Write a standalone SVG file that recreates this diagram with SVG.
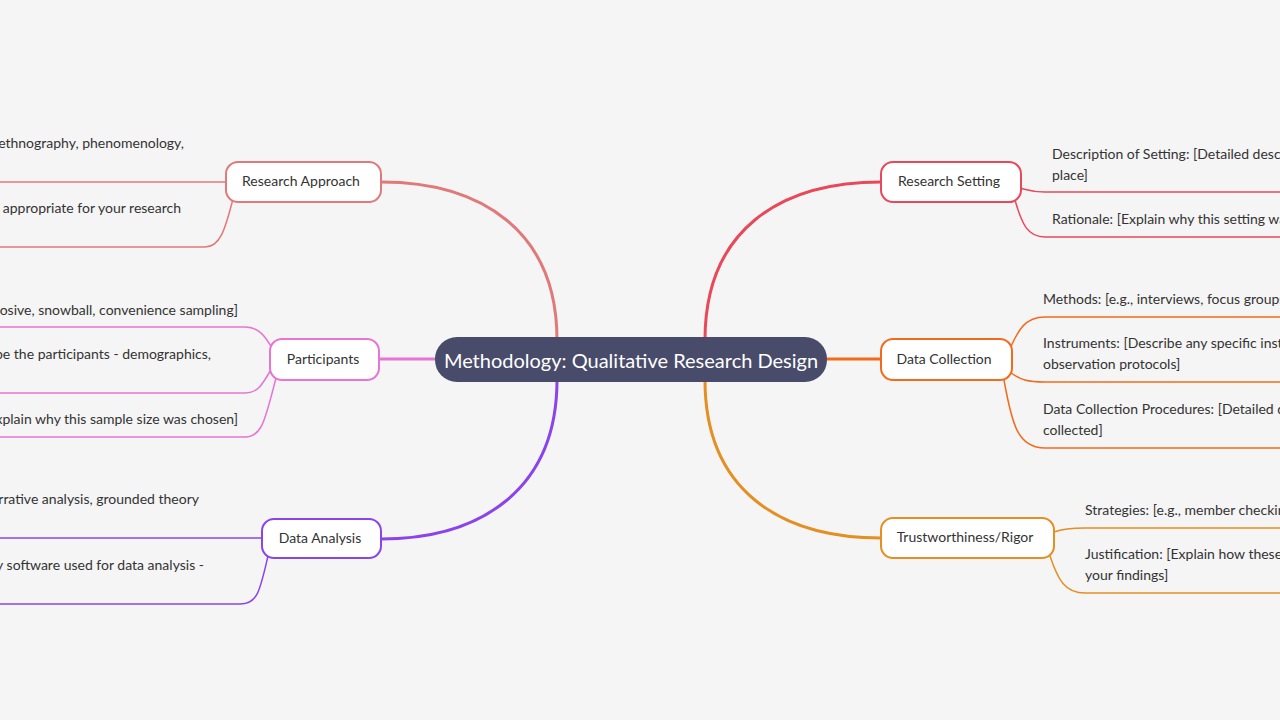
<svg xmlns="http://www.w3.org/2000/svg" width="1280" height="720" viewBox="0 0 1280 720">
<style>
.t{font-family:Lato,"Open Sans","Liberation Sans",sans-serif;font-size:14px;fill:#333}
.n{fill:#fff;stroke-width:2}
.c{fill:none;stroke-width:1.5}
.m{fill:none;stroke-width:3}
</style>
<rect width="1280" height="720" fill="#f5f5f5"/>
<g id="connectors">
<path class="m" stroke="#e07a7a" d="M557,340 C557,230 480,182 381,182"/>
<path class="m" stroke="#e874d4" d="M435,359 L379,359"/>
<path class="m" stroke="#8b44ec" d="M557,380 C557,490 480,539 381,539"/>
<path class="m" stroke="#e8485a" d="M705,340 C705,230 780,182 881,182"/>
<path class="m" stroke="#f26b1d" d="M827,359 L881,359"/>
<path class="m" stroke="#e38f22" d="M705,380 C705,490 780,538 881,538"/>
<path class="c" stroke="#e07a7a" d="M226,182 L0,182"/>
<path class="c" stroke="#e07a7a" d="M233,199 C225,230 220,247 205,247 L0,247"/>
<path class="c" stroke="#e874d4" d="M273,350 C265,335 258,327 245,327 L0,327"/>
<path class="c" stroke="#e874d4" d="M272,368 C262,385 258,393 245,393 L0,393"/>
<path class="c" stroke="#e874d4" d="M276,378 C265,420 262,437 245,437 L0,437"/>
<path class="c" stroke="#8b44ec" d="M262,538 L0,538"/>
<path class="c" stroke="#8b44ec" d="M268,556 C260,590 258,604 240,604 L0,604"/>
<path class="c" stroke="#e8485a" d="M1020,188 C1028,190 1032,192 1045,192 L1280,192"/>
<path class="c" stroke="#e8485a" d="M1015,200 C1022,225 1028,237 1045,237 L1280,237"/>
<path class="c" stroke="#f26b1d" d="M1009,351 C1018,330 1025,317 1045,317 L1280,317"/>
<path class="c" stroke="#f26b1d" d="M1010,372 C1020,380 1028,382 1045,382 L1280,382"/>
<path class="c" stroke="#f26b1d" d="M1004,380 C1012,425 1018,448 1045,448 L1280,448"/>
<path class="c" stroke="#e38f22" d="M1054,532 C1062,529 1070,528 1085,528 L1280,528"/>
<path class="c" stroke="#e38f22" d="M1050,556 C1058,580 1065,593 1085,593 L1280,593"/>
</g>
<g id="center"><rect x="435" y="337" width="392" height="45" rx="22" fill="#484b6a"/>
<text x="631" y="368" text-anchor="middle" style="font-family:Lato,'Open Sans','Liberation Sans',sans-serif;font-size:20px;fill:#fff">Methodology: Qualitative Research Design</text></g>
<g id="research-approach"><rect class="n" stroke="#e07a7a" x="226" y="162" width="155" height="40" rx="12"/><text class="t" x="301" y="186" text-anchor="middle">Research Approach</text></g>
<g id="participants"><rect class="n" stroke="#e874d4" x="270" y="339" width="109" height="41" rx="12"/><text class="t" x="323" y="364" text-anchor="middle">Participants</text></g>
<g id="data-analysis"><rect class="n" stroke="#8b44ec" x="262" y="519" width="119" height="39" rx="12"/><text class="t" x="320" y="543" text-anchor="middle">Data Analysis</text></g>
<g id="research-setting"><rect class="n" stroke="#e8485a" x="881" y="162" width="140" height="40" rx="12"/><text class="t" x="949" y="186" text-anchor="middle">Research Setting</text></g>
<g id="data-collection"><rect class="n" stroke="#f26b1d" x="881" y="339" width="131" height="41" rx="12"/><text class="t" x="944" y="364" text-anchor="middle">Data Collection</text></g>
<g id="trustworthiness"><rect class="n" stroke="#e38f22" x="881" y="518" width="173" height="40" rx="12"/><text class="t" x="965" y="542" text-anchor="middle">Trustworthiness/Rigor</text></g>
<g id="leaves">
<text class="t" x="184" y="148" text-anchor="end">ethnography, phenomenology,</text>
<text class="t" x="181" y="213" text-anchor="end">s appropriate for your research</text>
<text class="t" x="238" y="315" text-anchor="end">posive, snowball, convenience sampling]</text>
<text class="t" x="211" y="359" text-anchor="end">be the participants - demographics,</text>
<text class="t" x="238" y="424" text-anchor="end">xplain why this sample size was chosen]</text>
<text class="t" x="199" y="504" text-anchor="end">rrative analysis, grounded theory</text>
<text class="t" x="204" y="570" text-anchor="end">ny software used for data analysis -</text>
<text class="t" x="1052" y="159">Description of Setting: [Detailed descri</text>
<text class="t" x="1052" y="180">place]</text>
<text class="t" x="1052" y="224">Rationale: [Explain why this setting wa</text>
<text class="t" x="1043" y="304">Methods: [e.g., interviews, focus groups</text>
<text class="t" x="1043" y="348">Instruments: [Describe any specific instr</text>
<text class="t" x="1043" y="369">observation protocols]</text>
<text class="t" x="1043" y="414">Data Collection Procedures: [Detailed de</text>
<text class="t" x="1043" y="435">collected]</text>
<text class="t" x="1085" y="515">Strategies: [e.g., member checkin</text>
<text class="t" x="1085" y="559">Justification: [Explain how these</text>
<text class="t" x="1085" y="580">your findings]</text>
</g>
</svg>
